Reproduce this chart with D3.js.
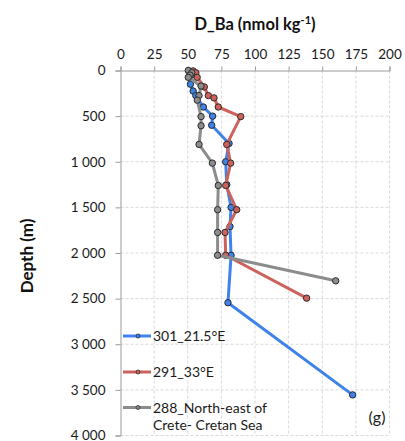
<!DOCTYPE html>
<html>
<head>
<meta charset="utf-8">
<script src="https://cdn.jsdelivr.net/npm/d3@7"></script>
<style>
  html, body { margin: 0; padding: 0; background: #fff; }
  svg { display: block; font-family: Lato, "Open Sans", sans-serif; }
</style>
</head>
<body>
<svg id="chart" width="405" height="441"></svg>
<script>
// Dissolved barium profiles at three stations
const xTicks = [0, 25, 50, 75, 100, 125, 150, 175, 200];
const yTicks = [0, 500, 1000, 1500, 2000, 2500, 3000, 3500, 4000];

const st301Depth = [5, 50, 150, 225, 275, 400, 500, 600, 800, 1000, 1250, 1500, 1710, 2025, 2545, 3555];
const st301Ba    = [51, 53, 52, 54, 56, 61.6, 68.5, 67.8, 80.7, 78.2, 79, 82.2, 81.4, 82.2, 79.9, 172.6];

const st291Depth = [5, 25, 75, 180, 275, 300, 400, 505, 810, 1015, 1260, 1525, 1775, 2025, 2495];
const st291Ba    = [54, 56, 57, 62.3, 65.3, 69.5, 72.7, 89.4, 79, 81.9, 78.2, 86.4, 77.7, 78.2, 138.4];

const st288Depth = [0, 25, 50, 75, 170, 275, 325, 505, 605, 810, 1015, 1260, 1525, 1775, 2025, 2305];
const st288Ba    = [50.4, 53, 51.7, 50.4, 59.9, 58.4, 57.1, 59.9, 59.9, 58.4, 68.3, 72.7, 72.2, 72.2, 72.2, 160];

const seriesNames  = ["301_21.5°E", "291_33°E", "288_North-east of|Crete- Cretan Sea"];
const seriesColors = ["#3f82ea", "#cc625b", "#8c8c8c"];

const series = [
  { name: seriesNames[0], color: seriesColors[0], depth: st301Depth, ba: st301Ba },
  { name: seriesNames[1], color: seriesColors[1], depth: st291Depth, ba: st291Ba },
  { name: seriesNames[2], color: seriesColors[2], depth: st288Depth, ba: st288Ba }
];

const svg = d3.select("#chart");
const plotL = 120.5, plotR = 389.5, plotT = 70.5, plotB = 435.5;

const x = d3.scaleLinear().domain([0, 200]).range([plotL, plotR]);
const y = d3.scaleLinear().domain([0, 4000]).range([plotT, plotB]);

const loc = d3.formatLocale({ decimal: ".", thousands: " ", grouping: [3], currency: ["", ""] });
const fmt = loc.format(",");

// grid
const grid = svg.append("g").attr("stroke", "#d9d9d9").attr("stroke-width", 1).attr("stroke-dasharray", "3,2");
grid.selectAll(".gx").data(xTicks.slice(1)).join("line")
  .attr("x1", d => x(d)).attr("x2", d => x(d)).attr("y1", plotT).attr("y2", plotB);
grid.selectAll(".gy").data(yTicks.slice(1)).join("line")
  .attr("x1", plotL).attr("x2", plotR).attr("y1", d => y(d)).attr("y2", d => y(d));

// axes
const xAxis = svg.append("g").attr("transform", `translate(0,${plotT})`)
  .call(d3.axisTop(x).tickValues(xTicks).tickSize(4).tickPadding(8).tickFormat(fmt));
const yAxis = svg.append("g").attr("transform", `translate(${plotL},0)`)
  .call(d3.axisLeft(y).tickValues(yTicks).tickSize(5).tickPadding(10).tickFormat(fmt));
[xAxis, yAxis].forEach(a => {
  a.select(".domain").attr("stroke", "#9a9a9a");
  a.selectAll(".tick line").attr("stroke", "#9a9a9a");
  a.selectAll(".tick text").attr("fill", "#1a1a1a").style("font-size", "13.5px").style("font-family", "Lato, sans-serif");
});

// profiles
const line = d3.line().x(d => x(d.v)).y(d => y(d.z));
series.forEach(s => {
  const pts = s.depth.map((z, i) => ({ z, v: s.ba[i] }));
  svg.append("path").datum(pts).attr("d", line)
    .attr("fill", "none").attr("stroke", s.color).attr("stroke-width", 3).attr("stroke-linejoin", "round");
  svg.append("g").selectAll("circle").data(pts).join("circle")
    .attr("cx", d => x(d.v)).attr("cy", d => y(d.z)).attr("r", 3.2)
    .attr("fill", s.color).attr("stroke", "#2b2b2b").attr("stroke-width", 1);
});

// title
const title = svg.append("text").attr("x", 255).attr("y", 30).attr("text-anchor", "middle")
  .attr("font-weight", "bold").attr("font-size", 16.5).attr("fill", "#111");
title.append("tspan").text("D_Ba (nmol kg");
title.append("tspan").attr("dy", -6).attr("font-size", 11).text("-1");
title.append("tspan").attr("dy", 6).text(")");

// y label
svg.append("text").attr("transform", "translate(33,256) rotate(-90)").attr("text-anchor", "middle")
  .attr("font-weight", "bold").attr("font-size", 17).attr("fill", "#111").text("Depth (m)");

// legend
const legendY = [336, 372, 407.5];
series.forEach((s, i) => {
  const g = svg.append("g").attr("transform", `translate(0,${legendY[i]})`);
  g.append("line").attr("x1", 123).attr("x2", 151).attr("y1", 0).attr("y2", 0)
    .attr("stroke", s.color).attr("stroke-width", 3);
  g.append("circle").attr("cx", 138).attr("cy", 0).attr("r", 2)
    .attr("fill", s.color).attr("stroke", "#2b2b2b").attr("stroke-width", 0.8);
  const parts = s.name.split("|");
  parts.forEach((p, j) => {
    g.append("text").attr("x", 153).attr("y", 5 + j * 17.5).attr("font-size", 14).attr("fill", "#1a1a1a").text(p);
  });
});

// panel label
svg.append("text").attr("x", 377).attr("y", 423).attr("text-anchor", "middle")
  .attr("font-size", 16).attr("fill", "#1a1a1a").text("(g)");
</script>
</body>
</html>
